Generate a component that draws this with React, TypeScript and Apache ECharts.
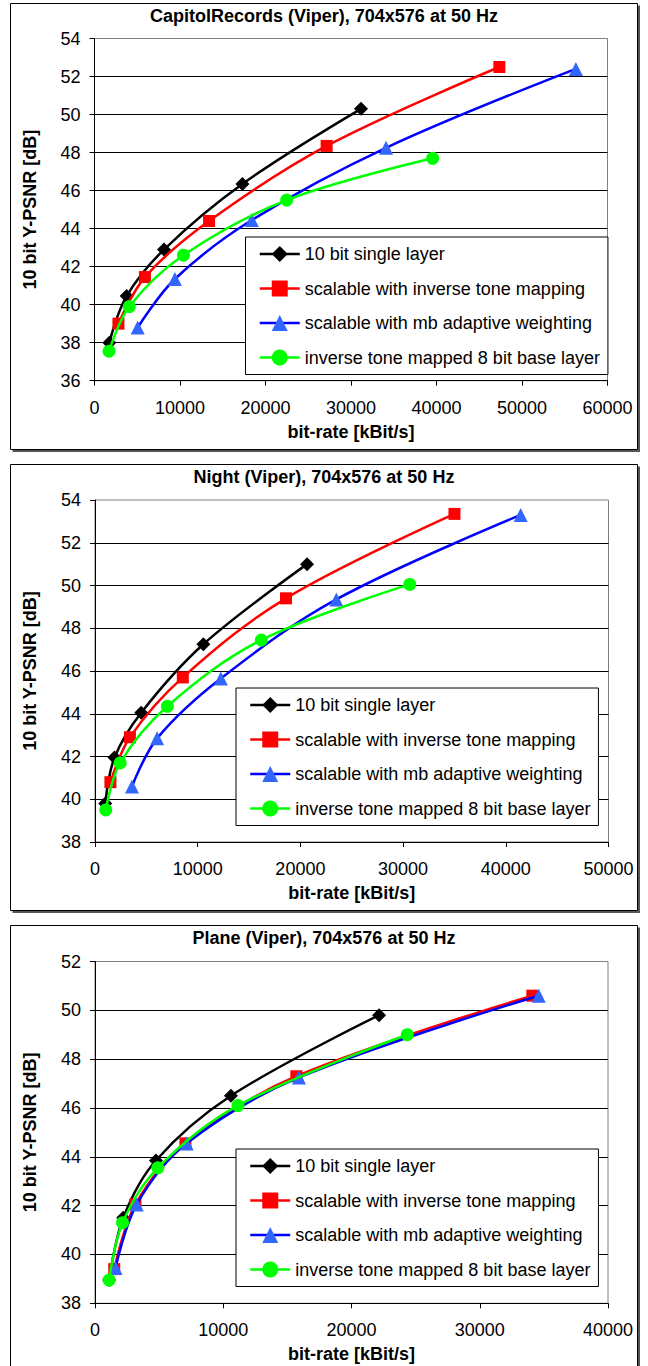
import React, { useEffect, useRef } from 'react';
import * as echarts from 'echarts';

const FONT = '"Liberation Sans", Arial, sans-serif';

const chartTitles = [
  'CapitolRecords (Viper), 704x576 at 50 Hz',
  'Night (Viper), 704x576 at 50 Hz',
  'Plane (Viper), 704x576 at 50 Hz',
];
const seriesNames = [
  '10 bit single layer',
  'scalable with inverse tone mapping',
  'scalable with mb adaptive weighting',
  'inverse tone mapped 8 bit base layer',
];
const xAxisTitle = 'bit-rate [kBit/s]';
const yAxisTitle = '10 bit Y-PSNR [dB]';

// [bit-rate kBit/s, Y-PSNR dB]
const capitolSingle = [[1730, 38.0], [3760, 40.45], [8130, 42.9], [17300, 46.35], [31170, 50.3]];
const capitolInverse = [[2800, 39.0], [5900, 41.45], [13400, 44.4], [27150, 48.35], [47350, 52.5]];
const capitolMb = [[5050, 38.8], [9400, 41.35], [18400, 44.45], [34100, 48.25], [56300, 52.4]];
const capitolBase = [[1700, 37.55], [4070, 39.9], [10400, 42.6], [22480, 45.5], [39550, 47.7]];

const nightSingle = [[1000, 39.8], [1900, 41.95], [4500, 44.05], [10550, 47.25], [20650, 51.0]];
const nightInverse = [[1500, 40.8], [3400, 42.9], [8550, 45.7], [18600, 49.4], [35000, 53.35]];
const nightMb = [[3600, 40.6], [6050, 42.85], [12250, 45.65], [23500, 49.35], [41450, 53.3]];
const nightBase = [[1050, 39.5], [2450, 41.7], [7050, 44.35], [16200, 47.45], [30650, 50.05]];

const planeSingle = [[1100, 38.95], [2200, 41.5], [4750, 43.85], [10600, 46.5], [22150, 49.8]];
const planeInverse = [[1500, 39.4], [3150, 42.05], [7050, 44.55], [15700, 47.3], [34100, 50.6]];
const planeMb = [[1600, 39.45], [3250, 42.05], [7150, 44.55], [15900, 47.25], [34600, 50.6]];
const planeBase = [[1100, 38.95], [2150, 41.3], [4900, 43.55], [11150, 46.1], [24350, 49.0]];

const chartData = [
  [capitolSingle, capitolInverse, capitolMb, capitolBase],
  [nightSingle, nightInverse, nightMb, nightBase],
  [planeSingle, planeInverse, planeMb, planeBase],
];

const xRanges = [[0, 60000, 10000], [0, 50000, 10000], [0, 40000, 10000]];
const yRanges = [[36, 54, 2], [38, 54, 2], [38, 52, 2]];

// layout (pixels)
const boxes = [
  { x: 10.5, y: 3.5, w: 627, h: 446 },
  { x: 10.5, y: 464.5, w: 627, h: 446 },
  { x: 10.5, y: 925.5, w: 627, h: 446 },
];
const grids = [
  { left: 94.5, top: 38.5, width: 513, height: 342.2 },
  { left: 95, top: 500, width: 513.5, height: 342 },
  { left: 95, top: 961.5, width: 513, height: 341.8 },
];
const legends = [
  { left: 245.5, top: 237 },
  { left: 236, top: 688 },
  { left: 236, top: 1149 },
];

const lineColors = ['#000000', '#FF0000', '#0000FF', '#00FF00'];
const markerColors = ['#000000', '#FF0000', '#3366FF', '#00FF00'];
const symbols = ['diamond', 'rect', 'triangle', 'circle'];
const symbolSizes = [14, 12, 14, 13];

function buildOption() {
  const grid: any[] = [];
  const xAxis: any[] = [];
  const yAxis: any[] = [];
  const series: any[] = [];
  const legend: any[] = [];
  const graphic: any[] = [];

  for (let c = 0; c < 3; c++) {
    const g = grids[c];
    grid.push({
      left: g.left, top: g.top, width: g.width, height: g.height,
      show: true, borderColor: '#808080', borderWidth: 1, backgroundColor: 'transparent',
    });
    xAxis.push({
      type: 'value', gridIndex: c,
      min: xRanges[c][0], max: xRanges[c][1], interval: xRanges[c][2],
      axisLine: { show: true, lineStyle: { color: '#000', width: 1 } },
      axisTick: { show: true, inside: false, length: 5, lineStyle: { color: '#000' } },
      axisLabel: { color: '#000', fontSize: 18, fontFamily: FONT, margin: 18, formatter: (v: number) => String(v) },
      splitLine: { show: false },
    });
    yAxis.push({
      type: 'value', gridIndex: c,
      min: yRanges[c][0], max: yRanges[c][1], interval: yRanges[c][2],
      axisLine: { show: true, lineStyle: { color: '#000', width: 1 } },
      axisTick: { show: true, inside: false, length: 5, lineStyle: { color: '#000' } },
      axisLabel: { color: '#000', fontSize: 18, fontFamily: FONT, margin: 14, formatter: (v: number) => String(v) },
      splitLine: { show: true, showMinLine: false, showMaxLine: false, lineStyle: { color: '#000', width: 1 } },
    });
    for (let s = 0; s < 4; s++) {
      series.push({
        type: 'line',
        name: seriesNames[s],
        xAxisIndex: c, yAxisIndex: c,
        data: chartData[c][s],
        smooth: 0.35,
        symbol: symbols[s],
        symbolSize: symbolSizes[s],
        showSymbol: true,
        lineStyle: { color: lineColors[s], width: 2.5 },
        itemStyle: { color: markerColors[s] },
        z: 2 + s,
      });
    }
    legend.push({
      data: seriesNames,
      left: legends[c].left, top: legends[c].top,
      orient: 'vertical',
      itemWidth: 40, itemHeight: 20, itemGap: 14.5,
      padding: [7, 8, 7, 13],
      borderColor: '#000', borderWidth: 1, backgroundColor: '#fff',
      selectedMode: false,
      lineStyle: { width: 2.5 },
      textStyle: { color: '#000', fontSize: 18, fontFamily: FONT, lineHeight: 20 },
    });

    const b = boxes[c];
    graphic.push({
      type: 'polyline',
      shape: { points: [[b.x + b.w + 1.5, b.y + 2], [b.x + b.w + 1.5, b.y + b.h + 1.5], [b.x + 2, b.y + b.h + 1.5]] },
      style: { stroke: '#555', lineWidth: 2, fill: 'none' },
      silent: true,
    });
    graphic.push({
      type: 'rect',
      shape: { x: b.x, y: b.y, width: b.w, height: b.h },
      style: { stroke: '#000', lineWidth: 1, fill: 'none' },
      silent: true,
    });
    graphic.push({
      type: 'text',
      x: b.x + b.w / 2, y: b.y + 12,
      style: { text: chartTitles[c], fontSize: 18, fontWeight: 'bold', fontFamily: FONT, fill: '#000', textAlign: 'center', textVerticalAlign: 'middle' },
      silent: true,
    });
    graphic.push({
      type: 'text',
      x: g.left + g.width / 2, y: g.top + g.height + 51,
      style: { text: xAxisTitle, fontSize: 18, fontWeight: 'bold', fontFamily: FONT, fill: '#000', textAlign: 'center', textVerticalAlign: 'middle' },
      silent: true,
    });
    graphic.push({
      type: 'text',
      x: 30, y: g.top + g.height / 2,
      rotation: Math.PI / 2,
      style: { text: yAxisTitle, fontSize: 18, fontWeight: 'bold', fontFamily: FONT, fill: '#000', textAlign: 'center', textVerticalAlign: 'middle' },
      silent: true,
    });
  }

  return {
    animation: false,
    backgroundColor: '#fff',
    grid, xAxis, yAxis, series, legend, graphic,
  };
}

export default function App() {
  const ref = useRef<HTMLDivElement>(null);
  useEffect(() => {
    const chart = echarts.init(ref.current!, null, { renderer: 'svg' });
    chart.setOption(buildOption());
    return () => chart.dispose();
  }, []);
  return (
    <div
      ref={ref}
      style={{ position: 'absolute', left: 0, top: 0, width: 648, height: 1366, background: '#fff' }}
    />
  );
}
